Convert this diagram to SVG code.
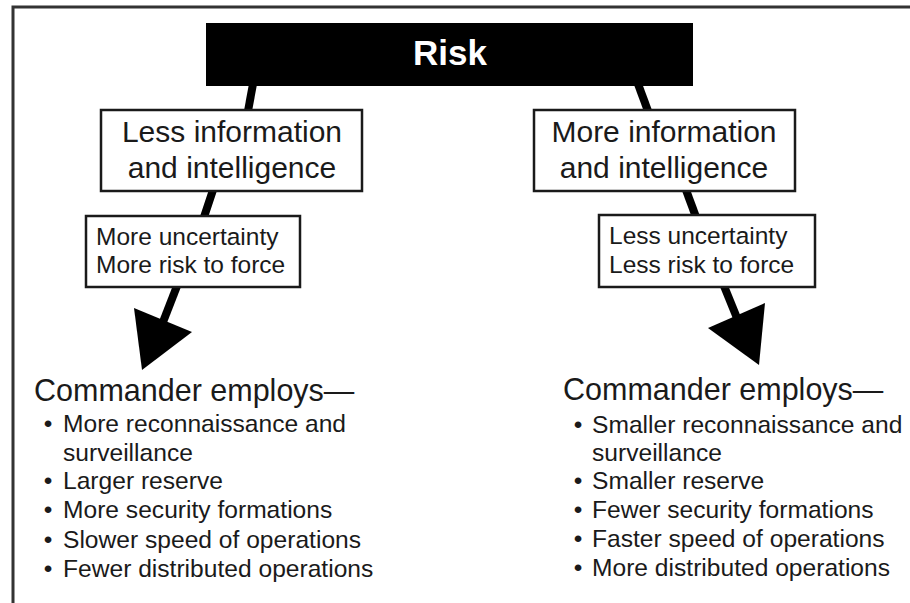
<svg xmlns="http://www.w3.org/2000/svg" width="910" height="603" viewBox="0 0 910 603">
<style>
.box{fill:#fff;stroke:#1a1a1a;stroke-width:2.5}
.t{font-family:"Liberation Sans",Arial,sans-serif;fill:#1a1a1a}
.big{font-size:30px;text-anchor:middle}
.sm{font-size:24.5px}
.cmd{font-size:30.5px}
.bl{font-size:24.6px}
.conn{stroke:#000;stroke-width:8;fill:none}
</style>
<rect width="910" height="603" fill="#fff"/>
<path d="M13,603 V7 H910" fill="none" stroke="#333" stroke-width="3"/>
<g id="connectors">
<line class="conn" x1="253" y1="84" x2="248" y2="111"/>
<line class="conn" x1="638" y1="84" x2="648" y2="111"/>
<line class="conn" x1="213" y1="190" x2="204" y2="217"/>
<line class="conn" x1="686" y1="190" x2="696" y2="217"/>
<line class="conn" x1="177" y1="286" x2="163" y2="322"/>
<polygon points="134,308 192,332 142,370" fill="#000"/>
<line class="conn" x1="724" y1="286" x2="737" y2="318"/>
<polygon points="708,328 765,303 759,365" fill="#000"/>
</g>
<g id="risk">
<rect x="206" y="23" width="487" height="63" fill="#000"/>
<text x="450" y="65" font-family="Liberation Sans,Arial,sans-serif" font-size="35" font-weight="bold" fill="#fff" text-anchor="middle">Risk</text>
</g>
<g id="less-info">
<rect class="box" x="101" y="110" width="261" height="81"/>
<text class="t big" x="232" y="142">Less information</text>
<text class="t big" x="232" y="178">and intelligence</text>
</g>
<g id="more-info">
<rect class="box" x="534" y="110" width="261" height="81"/>
<text class="t big" x="664" y="142">More information</text>
<text class="t big" x="664" y="178">and intelligence</text>
</g>
<g id="more-uncertainty">
<rect class="box" x="86" y="216" width="214" height="71"/>
<text class="t sm" x="96" y="245">More uncertainty</text>
<text class="t sm" x="96" y="273">More risk to force</text>
</g>
<g id="less-uncertainty">
<rect class="box" x="599" y="215" width="216" height="72"/>
<text class="t sm" x="609" y="244">Less uncertainty</text>
<text class="t sm" x="609" y="273">Less risk to force</text>
</g>
<g id="left-list">
<text class="t cmd" x="34" y="401">Commander employs—</text>
<text class="t bl" x="48" y="432" text-anchor="middle">•</text>
<text class="t bl" x="63" y="432">More reconnaissance and</text>
<text class="t bl" x="63" y="461">surveillance</text>
<text class="t bl" x="48" y="489" text-anchor="middle">•</text>
<text class="t bl" x="63" y="489">Larger reserve</text>
<text class="t bl" x="48" y="518" text-anchor="middle">•</text>
<text class="t bl" x="63" y="518">More security formations</text>
<text class="t bl" x="48" y="548" text-anchor="middle">•</text>
<text class="t bl" x="63" y="548">Slower speed of operations</text>
<text class="t bl" x="48" y="577" text-anchor="middle">•</text>
<text class="t bl" x="63" y="577">Fewer distributed operations</text>
</g>
<g id="right-list">
<text class="t cmd" x="563" y="400">Commander employs—</text>
<text class="t bl" x="578" y="433" text-anchor="middle">•</text>
<text class="t bl" x="592" y="433">Smaller reconnaissance and</text>
<text class="t bl" x="592" y="461">surveillance</text>
<text class="t bl" x="578" y="489" text-anchor="middle">•</text>
<text class="t bl" x="592" y="489">Smaller reserve</text>
<text class="t bl" x="578" y="518" text-anchor="middle">•</text>
<text class="t bl" x="592" y="518">Fewer security formations</text>
<text class="t bl" x="578" y="547" text-anchor="middle">•</text>
<text class="t bl" x="592" y="547">Faster speed of operations</text>
<text class="t bl" x="578" y="576" text-anchor="middle">•</text>
<text class="t bl" x="592" y="576">More distributed operations</text>
</g>
</svg>
